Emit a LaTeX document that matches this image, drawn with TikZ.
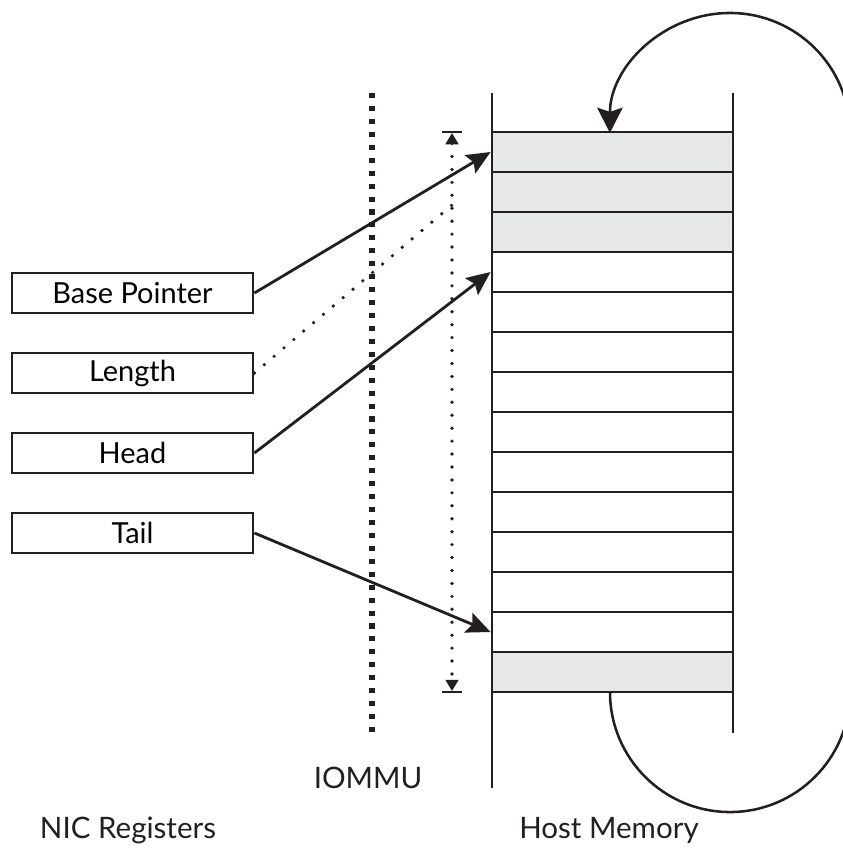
\documentclass[tikz,border=0pt]{standalone}
\usepackage{fontspec}
\setmainfont{Lato}
\usepackage{tikz}
\usetikzlibrary{arrows.meta, positioning, calc}
\definecolor{memgray}{RGB}{230, 231, 232}
\definecolor{inkblack}{RGB}{35, 31, 32}
\tikzset{
  >=Stealth,
  ptrarrow/.style={-{Stealth[length=8.5pt, width=7.5pt, inset=1.5pt]}, line width=1pt, inkblack},
  looparrow/.style={-{Stealth[length=9pt, width=9pt, inset=1.5pt]}, line width=0.9pt, inkblack},
  dimarrow/.style={{Triangle[length=4pt, width=4.5pt]}-{Triangle[length=4pt, width=4.5pt]}, line width=1.3pt, line cap=round, dash pattern=on 0pt off 4.6pt, inkblack},
  lenline/.style={line width=1.3pt, line cap=round, dash pattern=on 0pt off 4.6pt, inkblack},
  memline/.style={line width=1pt, inkblack}
}

\begin{document}
\begin{tikzpicture}[
    x=0.0125cm, y=-0.0125cm,
    regbox/.style={rectangle, draw=inkblack, line width=1pt, minimum width=3.0125cm, minimum height=0.5cm, inner sep=0pt, font=\fontsize{10.3}{12}\selectfont},
    slot/.style={rectangle, draw=inkblack, line width=1pt, minimum width=3.0125cm, minimum height=0.5cm, inner sep=0pt},
    caption/.style={font=\fontsize{10.5}{12}\selectfont, text=inkblack, inner sep=0pt}
]
    \useasboundingbox (0,0) rectangle (843,850);
    \clip (0,0) rectangle (843,850);

    % NIC registers
    \node[regbox] (base) at (132.5, 293) {Base Pointer};
    \node[regbox] (len)  at (132.5, 373) {Length};
    \node[regbox] (head) at (132.5, 453) {Head};
    \node[regbox] (tail) at (132.5, 533) {Tail};

    % Host memory ring
    \foreach \i/\c in {1/memgray, 2/memgray, 3/memgray, 4/white, 5/white, 6/white, 7/white,
                       8/white, 9/white, 10/white, 11/white, 12/white, 13/white, 14/memgray}
        \node[slot, fill=\c] (r\i) at (612.5, 112+40*\i) {};
    \draw[memline] (492, 93) -- (492, 788);
    \draw[memline] (733, 93) -- (733, 733);

    % IOMMU boundary
    \coordinate (iotop) at (372, 93);
    \coordinate (iobot) at (372, 735);
    \draw[line width=1.8pt, dash pattern=on 1.8pt off 2.8pt, inkblack] (iotop) -- (iobot);
    \node[caption] (iommu) at (368, 778) {IOMMU};

    % Length of the ring
    \coordinate (dtop) at (452, 132);
    \coordinate (dbot) at (452, 692);
    \coordinate (dlen) at (452, 205);
    \draw[line width=1pt, inkblack] ($(dtop)+(-10,0)$) -- ($(dtop)+(10,0)$);
    \draw[line width=1pt, inkblack] ($(dbot)+(-10,0)$) -- ($(dbot)+(10,0)$);
    \draw[dimarrow] ($(dtop)+(0,1)$) -- ($(dbot)+(0,-1)$);

    % Pointers into memory
    \draw[ptrarrow] (base.east) -- (r1.west);
    \draw[lenline] (len.east) -- (dlen);
    \draw[ptrarrow] (head.east) -- (r4.west);
    \draw[ptrarrow] (tail.east) -- (r13.west);

    % Wrap-around
    \draw[looparrow] (850, 133) arc[start angle=0, end angle=180, radius=1.5cm];
    \draw[line width=0.9pt, inkblack] (610, 692) arc[start angle=180, end angle=360, radius=1.5cm];

    % Captions
    \node[caption] (nic) at (128, 830) {NIC Registers};
    \node[caption] (host) at (609, 830) {Host Memory};
\end{tikzpicture}
\end{document}
